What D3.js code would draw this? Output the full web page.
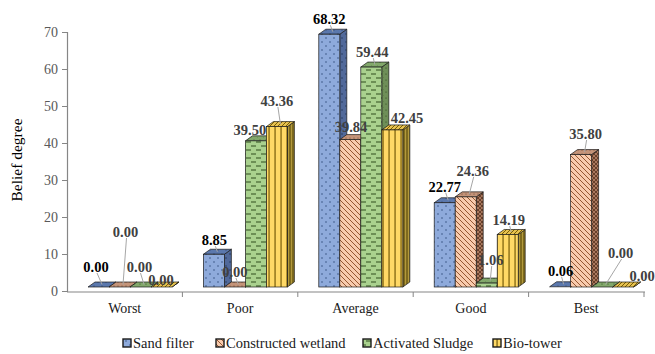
<!DOCTYPE html>
<html>
<head>
<meta charset="utf-8">
<script src="https://cdn.jsdelivr.net/npm/d3@7"></script>
<style>
  html, body { margin: 0; padding: 0; background: #fff; }
  svg { display: block; }
  text { font-family: "Liberation Serif", "Times New Roman", serif; }
</style>
</head>
<body>
<svg id="chart" width="655" height="354"></svg>
<script>
// Belief degree of each treatment option per performance grade
const categories = ["Worst", "Poor", "Average", "Good", "Best"];
const seriesNames = ["Sand filter", "Constructed wetland", "Activated Sludge", "Bio-tower"];
const sandFilter = [0.00, 8.85, 68.32, 22.77, 0.06];
const constructedWetland = [0.00, 0.00, 39.84, 24.36, 35.80];
const activatedSludge = [0.00, 39.50, 59.44, 1.06, 0.00];
const bioTower = [0.00, 43.36, 42.45, 14.19, 0.00];
const yTicks = [0, 10, 20, 30, 40, 50, 60, 70];

const seriesValues = [sandFilter, constructedWetland, activatedSludge, bioTower];

// Hand-placed label nudges [dx, dy] from each column's top, per series then category
const labelNudge = [
  [[-2.5, -20], [0.5, -14], [0, -15], [0, -16], [0.5, -16]],
  [[6, -55], [0, -15], [0.7, -12.6], [7, -26], [4.5, -20.5]],
  [[-1, -20], [-6, -11], [1, -15], [4, -23], [18.5, -34]],
  [[-0.5, -7], [0, -25.6], [14.7, -12], [1, -14.5], [19, -11]]
];

const FONT = "Liberation Serif, Times New Roman, serif";
const svg = d3.select("#chart");
const defs = svg.append("defs");

// ---- fill patterns ----
function pat(id, w, h, bg, draw) {
  const p = defs.append("pattern").attr("id", id)
    .attr("patternUnits", "userSpaceOnUse").attr("width", w).attr("height", h);
  p.append("rect").attr("width", w).attr("height", h).attr("fill", bg);
  draw(p);
}
function dots(color, r) {
  return p => {
    p.append("circle").attr("cx", 2).attr("cy", 2).attr("r", r).attr("fill", color);
    p.append("circle").attr("cx", 6).attr("cy", 6).attr("r", r).attr("fill", color);
  };
}
// Sand filter: dotted blue
pat("sf-front", 8, 8, "#8eaadb", dots("#2f4a7a", 0.75));
pat("sf-side", 8, 8, "#51699a", dots("#1f3458", 0.75));
pat("sf-top", 8, 8, "#5b78ad", dots("#24395f", 0.6));
// Constructed wetland: diagonal hatch on peach
pat("cw-front", 5, 5, "#f8cbad", p => {
  p.append("path").attr("d", "M0,0 L5,5 M-1,4 L1,6 M4,-1 L6,1")
    .attr("stroke", "#8a4a24").attr("stroke-width", 0.9);
});
pat("cw-side", 4, 4, "#a9785e", p => {
  p.append("path").attr("d", "M0,0 L4,4 M4,0 L0,4").attr("stroke", "#4d2a16").attr("stroke-width", 0.7);
});
pat("cw-top", 4, 4, "#c49479", dots("#5a3420", 0.5));
// Activated sludge: staggered dashes on green
pat("as-front", 10, 8, "#a9d18e", p => {
  p.append("path").attr("d", "M1,2 H6 M6,6 H11 M-4,6 H1")
    .attr("stroke", "#2f4d1e").attr("stroke-width", 1.1);
});
pat("as-side", 6, 6, "#6e8f58", dots("#2b4219", 0.6));
pat("as-top", 6, 6, "#82a86b", dots("#2f4d1e", 0.6));
// Bio-tower: vertical stripes on yellow
pat("bt-front", 6, 6, "#ffd966", p => {
  p.append("rect").attr("x", 4.5).attr("width", 1.1).attr("height", 6).attr("fill", "#6b5200");
});
pat("bt-side", 3, 3, "#b39a3c", p => {
  p.append("rect").attr("x", 1.5).attr("width", 1).attr("height", 3).attr("fill", "#4a3a00");
});
pat("bt-top", 4, 4, "#e8c24f", p => {
  p.append("path").attr("d", "M0,4 L4,0 M-1,1 L1,-1 M3,5 L5,3")
    .attr("stroke", "#6b5200").attr("stroke-width", 0.9);
});

const patKeys = ["sf", "cw", "as", "bt"];
const labelColors = ["#000000", "#404040", "#404040", "#404040"];

// ---- scales ----
const plotLeft = 67, plotRight = 644;
const x = d3.scaleBand().domain(categories).range([plotLeft, plotRight]).padding(0);
const xs = d3.scaleBand().domain(seriesNames)
  .range([x.bandwidth() * 0.182, x.bandwidth() * 0.91]).padding(0);
const y = d3.scaleLinear().domain([0, 70]).range([291, 32]);

// 3D depth offsets
const depthX = 7, depthY = -5, frontLift = 4;

// ---- axes ----
const yAxis = d3.axisLeft(y).tickValues(yTicks).tickSize(5).tickPadding(4).tickFormat(d3.format("d"));
const gy = svg.append("g").attr("transform", `translate(${plotLeft},0)`).call(yAxis)
  .attr("font-family", FONT);
gy.select(".domain").attr("stroke", "#868686").attr("stroke-width", 1.2);
gy.selectAll(".tick line").attr("stroke", "#868686");
gy.selectAll(".tick text").attr("fill", "#595959").style("font-size", "14px");

const gx = svg.append("g").attr("transform", `translate(0,292)`);
gx.append("line").attr("x1", plotLeft).attr("x2", plotRight + 1)
  .attr("stroke", "#868686").attr("stroke-width", 1.2);
const bounds = categories.map(c => x(c) + x.bandwidth());
gx.selectAll("line.tk").data(bounds).join("line").attr("class", "tk")
  .attr("x1", d => d).attr("x2", d => d).attr("y1", 0).attr("y2", 5)
  .attr("stroke", "#868686");
gx.selectAll("text.cat").data(categories).join("text").attr("class", "cat")
  .attr("x", d => x(d) + x.bandwidth() / 2).attr("y", 21)
  .attr("text-anchor", "middle").attr("fill", "#1a1a1a").style("font-size", "14px")
  .text(d => d);

// y title
svg.append("text").attr("transform", "translate(22,160) rotate(-90)")
  .attr("text-anchor", "middle").attr("fill", "#000").style("font-size", "15.5px")
  .text("Belief degree");

// ---- columns ----
const bars = [];
categories.forEach((c, ci) => {
  seriesNames.forEach((s, si) => {
    bars.push({ c, ci, s, si, v: seriesValues[si][ci] });
  });
});

const gBars = svg.append("g");
bars.forEach(b => {
  const x0 = x(b.c) + xs(b.s);
  const w = xs.bandwidth();
  const yTop = y(b.v) - frontLift;
  const yBot = y(0) - frontLift;
  const k = patKeys[b.si];
  const g = gBars.append("g");
  const stroke = "#1a1a1a", sw = 0.7;
  // side face
  g.append("path")
    .attr("d", `M${x0 + w},${yBot} L${x0 + w + depthX},${yBot + depthY} L${x0 + w + depthX},${yTop + depthY} L${x0 + w},${yTop} Z`)
    .attr("fill", `url(#${k}-side)`).attr("stroke", stroke).attr("stroke-width", sw);
  // top face
  g.append("path")
    .attr("d", `M${x0},${yTop} L${x0 + depthX},${yTop + depthY} L${x0 + w + depthX},${yTop + depthY} L${x0 + w},${yTop} Z`)
    .attr("fill", `url(#${k}-top)`).attr("stroke", stroke).attr("stroke-width", sw);
  // front face
  if (yBot - yTop > 0.3) {
    g.append("rect").attr("x", x0).attr("y", yTop).attr("width", w).attr("height", yBot - yTop)
      .attr("fill", `url(#${k}-front)`).attr("stroke", stroke).attr("stroke-width", sw);
  }
  b.ax = x0 + w / 2;
  b.ay = yTop;
});

// ---- value labels with leader lines ----
const gLab = svg.append("g");
bars.forEach(b => {
  const [dx, dy] = labelNudge[b.si][b.ci];
  const lx = b.ax + dx, ly = b.ay + dy;
  const tx = b.ax + depthX / 2, ty = b.ay + depthY / 2;
  if (ty - (ly + 6) > 5) {
    gLab.append("line").attr("x1", lx + 1).attr("y1", ly + 6).attr("x2", tx).attr("y2", ty)
      .attr("stroke", "#a6a6a6").attr("stroke-width", 1);
  }
  gLab.append("text").attr("x", lx).attr("y", ly).attr("dy", "0.35em")
    .attr("text-anchor", "middle").attr("fill", labelColors[b.si])
    .style("font-size", "14.5px").style("font-weight", "bold")
    .text(d3.format(".2f")(b.v));
});

// ---- legend ----
const legendX = [123, 216, 363, 493];
const gLeg = svg.append("g").attr("transform", "translate(0,343)");
seriesNames.forEach((s, i) => {
  gLeg.append("rect").attr("x", legendX[i]).attr("y", -4).attr("width", 8).attr("height", 8)
    .attr("fill", `url(#${patKeys[i]}-front)`).attr("stroke", "#1a1a1a").attr("stroke-width", 1.4);
  gLeg.append("text").attr("x", legendX[i] + 10).attr("y", 0).attr("dy", "0.35em")
    .attr("fill", "#1a1a1a").style("font-size", "14.5px").text(s);
});
</script>
</body>
</html>
